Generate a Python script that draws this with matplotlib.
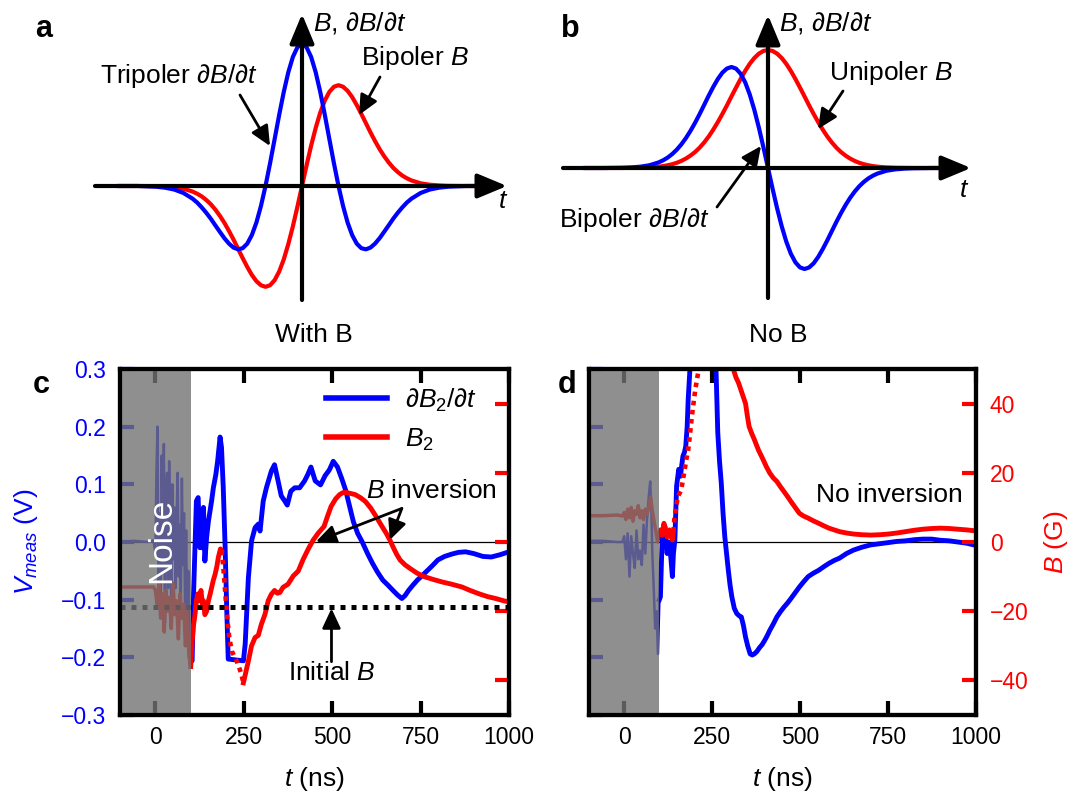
import matplotlib
matplotlib.use("Agg")
import matplotlib.pyplot as plt
from matplotlib.lines import Line2D

plt.rcParams['font.family'] = ['Liberation Sans', 'DejaVu Sans']
plt.rcParams['mathtext.fontset'] = 'custom'
plt.rcParams['mathtext.rm'] = 'Liberation Sans'
plt.rcParams['mathtext.it'] = 'Liberation Sans:italic'
plt.rcParams['mathtext.bf'] = 'Liberation Sans:bold'
plt.rcParams['mathtext.sf'] = 'Liberation Sans'

# ---- schematic pulses (a, b): time in pulse widths, amplitude normalised ----
u_grid = [-5, -4.5, -4, -3.75, -3.5, -3.25, -3, -2.875, -2.75, -2.625, -2.5, -2.375, -2.25,
          -2.125, -2, -1.875, -1.75, -1.625, -1.5, -1.375, -1.25, -1.125, -1, -0.875, -0.75,
          -0.625, -0.5, -0.375, -0.25, -0.125, 0, 0.125, 0.25, 0.375, 0.5, 0.625, 0.75, 0.875,
          1, 1.125, 1.25, 1.375, 1.5, 1.625, 1.75, 1.875, 2, 2.125, 2.25, 2.375, 2.5, 2.625,
          2.75, 2.875, 3, 3.25, 3.5, 3.75, 4, 4.5, 5]
a_tripolar = [0, 0, -0.005, -0.012, -0.025, -0.049, -0.089, -0.116, -0.150, -0.188, -0.230,
              -0.277, -0.323, -0.368, -0.406, -0.434, -0.446, -0.438, -0.406, -0.346, -0.258,
              -0.141, 0.0, 0.160, 0.330, 0.501, 0.662, 0.801, 0.909, 0.977, 1.0, 0.977, 0.909,
              0.801, 0.662, 0.501, 0.330, 0.160, 0.0, -0.141, -0.258, -0.346, -0.406, -0.438,
              -0.446, -0.434, -0.406, -0.368, -0.323, -0.277, -0.230, -0.188, -0.150, -0.116,
              -0.089, -0.049, -0.025, -0.012, -0.005, 0, 0]
a_bipolar = [0, 0, -0.001, -0.004, -0.009, -0.019, -0.039, -0.054, -0.073, -0.098, -0.128,
             -0.166, -0.210, -0.260, -0.317, -0.378, -0.443, -0.508, -0.570, -0.626, -0.670,
             -0.699, -0.710, -0.699, -0.663, -0.602, -0.517, -0.409, -0.284, -0.145, 0, 0.145,
             0.284, 0.409, 0.517, 0.602, 0.663, 0.699, 0.710, 0.699, 0.670, 0.626, 0.570, 0.508,
             0.443, 0.378, 0.317, 0.260, 0.210, 0.166, 0.128, 0.098, 0.073, 0.054, 0.039, 0.019,
             0.009, 0.004, 0.001, 0, 0]
b_bipolar = [0, 0, 0.002, 0.005, 0.011, 0.023, 0.047, 0.065, 0.088, 0.118, 0.155, 0.200, 0.253,
             0.314, 0.382, 0.456, 0.534, 0.613, 0.687, 0.754, 0.808, 0.843, 0.856, 0.842, 0.799,
             0.726, 0.623, 0.493, 0.342, 0.175, 0, -0.175, -0.342, -0.493, -0.623, -0.726,
             -0.799, -0.842, -0.856, -0.843, -0.808, -0.754, -0.687, -0.613, -0.534, -0.456,
             -0.382, -0.314, -0.253, -0.200, -0.155, -0.118, -0.088, -0.065, -0.047, -0.023,
             -0.011, -0.005, -0.002, 0, 0]
b_unipolar = [0, 0, 0.0003, 0.001, 0.002, 0.005, 0.011, 0.016, 0.023, 0.032, 0.044, 0.060,
              0.080, 0.105, 0.135, 0.172, 0.216, 0.267, 0.325, 0.389, 0.458, 0.531, 0.607, 0.682,
              0.755, 0.823, 0.883, 0.932, 0.969, 0.992, 1.0, 0.992, 0.969, 0.932, 0.883, 0.823,
              0.755, 0.682, 0.607, 0.531, 0.458, 0.389, 0.325, 0.267, 0.216, 0.172, 0.135, 0.105,
              0.080, 0.060, 0.044, 0.032, 0.023, 0.016, 0.011, 0.005, 0.002, 0.001, 0.0003, 0, 0]

# ---- panel c: measured dB2/dt (V) and B2 (G) vs t (ns) ----
c_noise_t = [-100, -60, -20, -5, 0, 3, 6, 9, 12, 15, 18, 21, 24, 27, 30, 33, 36, 39, 42, 45, 48,
             51, 54, 57, 60, 63, 66, 69, 72, 75, 78, 81, 84, 87, 90, 93, 96, 100]
c_noise_dbdt = [0.0, 0.002, 0.0, 0.003, -0.02, 0.12, 0.2, -0.1, 0.05, -0.12, 0.15, -0.05, 0.17,
                -0.14, 0.08, 0.12, -0.08, 0.14, 0.02, -0.1, 0.1, -0.03, 0.06, -0.08, 0.04, 0.12,
                -0.06, 0.03, -0.1, 0.11, -0.04, 0.05, -0.12, 0.02, -0.16, -0.05, -0.18, -0.206]
c_noise_bt = [-100, -60, -20, -5, 0, 5, 10, 15, 20, 25, 30, 35, 40, 45, 50, 55, 60, 65, 70, 75,
              80, 85, 90, 95, 100]
c_noise_b = [-13, -13, -13, -13, -14, -18, -12, -22, -15, -26, -14, -20, -16, -25, -12, -21, -17,
             -28, -15, -22, -18, -30, -20, -33, -36]

c_t_dbdt = [100, 104, 108, 112, 116, 121, 126, 129, 133, 136, 140, 145, 150, 159, 164, 171, 176,
            183, 187, 192, 197, 202, 206, 249, 254, 263, 272, 282, 291, 296, 305, 314, 328, 337,
            347, 356, 366, 373, 383, 394, 408, 422, 431, 440, 452, 467, 480, 492, 503, 515, 527,
            538, 550, 560, 572, 585, 600, 614, 628, 643, 658, 672, 685, 697, 706, 716, 728, 741,
            755, 770, 785, 799, 818, 838, 857, 877, 900, 926, 950, 975, 1000]
c_dbdt = [-0.206, -0.206, -0.09, -0.01, 0.071, 0.077, -0.01, 0.054, -0.01, 0.06, -0.033, 0.008,
          0.036, 0.071, 0.094, 0.117, 0.14, 0.182, 0.164, 0.094, -0.004, -0.12, -0.203, -0.206,
          -0.177, -0.062, 0.002, 0.025, 0.031, 0.019, 0.071, 0.094, 0.123, 0.134, 0.106, 0.08,
          0.071, 0.064, 0.088, 0.094, 0.094, 0.106, 0.117, 0.13, 0.106, 0.099, 0.115, 0.125, 0.14,
          0.13, 0.11, 0.09, 0.06, 0.035, 0.015, 0.0, -0.02, -0.037, -0.052, -0.066, -0.075, -0.084,
          -0.092, -0.098, -0.093, -0.084, -0.075, -0.066, -0.058, -0.049, -0.04, -0.031, -0.025,
          -0.021, -0.018, -0.017, -0.02, -0.025, -0.026, -0.022, -0.017]

c_t_b1 = [100, 104, 108, 112, 116, 120, 124, 129, 133, 136, 140, 145, 150, 155, 159, 164, 169,
          174, 178, 184, 187]
c_b1 = [-36, -28.6, -24, -21, -17, -15, -17, -14, -18, -17, -21, -20, -17, -15, -13.2, -11, -9.3,
        -7, -4.5, -2, -2.5]
c_t_bgap = [187, 191, 195, 200, 204, 209, 216, 223, 230, 236, 242, 249]
c_bgap = [-2.5, -6, -11, -18, -22.8, -27.6, -31.5, -33, -34.4, -36, -37.8, -40.7]
c_t_b2 = [249, 255, 263, 272, 282, 291, 300, 310, 319, 328, 337, 345, 352, 361, 375, 390, 404,
          418, 432, 446, 460, 477, 487, 497, 510, 521, 531, 541, 553, 565, 580, 594, 609, 624,
          638, 653, 663, 672, 682, 692, 706, 721, 740, 760, 785, 809, 838, 867, 890, 916, 940,
          965, 985, 1000]
c_b2 = [-40.7, -38, -34.4, -30, -27.6, -27, -23.7, -20.9, -17, -15.1, -14, -14.8, -14.6, -13.1,
        -12.2, -9.8, -8.4, -5, -2.1, 0.5, 2.5, 4.5, 7.5, 10.3, 12.5, 13.7, 14.3, 14.3, 14.0, 13.7,
        12.8, 11.7, 9.8, 7.4, 5.0, 2.5, 0.6, -1.4, -3.5, -5.2, -6.6, -7.7, -9, -10, -10.8, -11.5,
        -12.2, -13, -14, -15, -15.8, -16.4, -17, -17.3]
initial_b = -18.9

# ---- panel d ----
d_noise_t = [-100, -60, -20, -5, 0, 5, 10, 15, 20, 25, 30, 35, 40, 45, 50, 55, 60, 65, 70, 74,
             77, 80, 84, 88, 92, 96, 100]
d_noise_dbdt = [0.002, 0.002, 0.0, 0.0, 0.01, -0.03, 0.015, -0.06, 0.01, -0.02, -0.045, 0.02,
                -0.03, -0.015, -0.04, 0.03, -0.02, 0.04, 0.08, 0.105, 0.06, -0.02, -0.08, -0.15,
                -0.12, -0.194, -0.1]
d_noise_bt = [-100, -60, -20, -5, 0, 5, 10, 15, 20, 25, 30, 35, 40, 45, 50, 55, 60, 65, 70, 75,
              80, 85, 90, 95, 100]
d_noise_b = [7.6, 7.6, 7.8, 7.5, 8.5, 6.5, 9.5, 7, 10, 6, 9, 8, 10.5, 7, 9, 6.5, 9.5, 8, 10, 13,
             9, 6, 3, 0, 2.5]

d_t_dbdt = [100, 103, 108, 112, 116, 119, 122, 126, 129, 133, 137, 140, 144, 149, 155, 160, 163,
            167, 171, 175, 179, 182, 186, 190, 225, 258, 261, 266, 271, 276, 281, 286, 291, 296,
            301, 306, 313, 320, 327, 333, 339, 345, 351, 358, 364, 370, 377, 385, 392, 399, 407,
            414, 424, 434, 444, 454, 464, 474, 486, 498, 510, 523, 538, 553, 567, 582, 597, 612,
            632, 652, 676, 701, 726, 751, 775, 800, 825, 849, 874, 899, 924, 948, 973, 1000]
d_dbdt = [-0.1, -0.095, 0.009, 0.02, 0.027, 0.0, -0.02, 0.0, -0.002, -0.03, -0.06, -0.02, 0.003,
          0.097, 0.126, 0.114, 0.13, 0.149, 0.155, 0.166, 0.2, 0.248, 0.29, 0.34, 0.6, 0.34, 0.3,
          0.19, 0.14, 0.102, 0.05, 0.009, -0.02, -0.049, -0.075, -0.095, -0.115, -0.124, -0.128,
          -0.13, -0.145, -0.165, -0.18, -0.194, -0.196, -0.194, -0.19, -0.183, -0.178, -0.171,
          -0.162, -0.153, -0.142, -0.13, -0.121, -0.113, -0.106, -0.098, -0.088, -0.078, -0.069,
          -0.06, -0.054, -0.049, -0.043, -0.037, -0.032, -0.028, -0.02, -0.014, -0.009, -0.005,
          -0.003, -0.001, 0.001, 0.002, 0.004, 0.005, 0.005, 0.003, 0.002, 0.0, -0.002, -0.006]

d_t_b1 = [100, 103, 108, 113, 117, 122, 126, 129, 133, 137, 140]
d_b1 = [2.5, 3.5, 2, 5.4, 3.5, 1.5, 3.0, 3.5, 1.5, 0.6, 3]
d_t_bgap = [140, 143, 148, 152, 157, 162, 167, 172, 177, 182, 187, 192, 197, 202, 207, 212, 216]
d_bgap = [3, 7.3, 10, 13, 14, 15, 18, 21, 24, 26.7, 31, 36, 40, 44, 47, 50, 53]
d_t_b2 = [300, 310, 318, 325, 335, 345, 350, 355, 362, 370, 382, 395, 404, 414, 424, 434, 444,
          454, 464, 474, 486, 498, 510, 523, 538, 553, 567, 582, 597, 612, 632, 652, 676, 701,
          726, 751, 775, 800, 825, 849, 874, 899, 924, 948, 973, 1000]
d_b2 = [56, 50, 47.5, 46, 43, 40, 36.5, 33.4, 31.5, 29.6, 26.5, 23.8, 21.8, 19.9, 18.5, 17.5, 16,
        14.6, 13.2, 11.7, 10, 8.3, 7.5, 6.9, 6.1, 5.4, 4.7, 4.0, 3.5, 3.0, 2.6, 2.3, 2.1, 2.0,
        2.1, 2.3, 2.6, 3.0, 3.4, 3.7, 3.9, 4.0, 3.9, 3.7, 3.5, 3.2]

# ---- ticks ----
t_ticks = [0, 250, 500, 750, 1000]
t_labels = ['0', '250', '500', '750', '1000']
v_ticks = [-0.3, -0.2, -0.1, 0.0, 0.1, 0.2, 0.3]
v_labels = ['\u22120.3', '\u22120.2', '\u22120.1', '0.0', '0.1', '0.2', '0.3']
b_ticks = [-40, -20, 0, 20, 40]
b_labels = ['\u221240', '\u221220', '0', '20', '40']

W, H = 1086, 794
fig = plt.figure(figsize=(W / 100, H / 100), dpi=100)


def box(x0, y0, x1, y1):
    # pixel box (top-left origin) -> figure fraction
    return [x0 / W, 1 - y1 / H, (x1 - x0) / W, (y1 - y0) / H]


def schematic(x0, y0, x1, y1, ox, oy, sx, sy):
    ax = fig.add_axes(box(x0, y0, x1, y1))
    ax.set_xlim((x0 - ox) / sx, (x1 - ox) / sx)
    ax.set_ylim((oy - y1) / sy, (oy - y0) / sy)
    ax.axis('off')
    return ax


ax_a = schematic(90, 0, 530, 320, 302, 186, 36.5, 142)
ax_a.plot(u_grid, a_bipolar, color='red', lw=3)
ax_a.plot(u_grid, a_tripolar, color='blue', lw=3)

ax_b = schematic(555, 0, 990, 320, 768, 168, 36.5, 118)
ax_b.plot(u_grid, b_unipolar, color='red', lw=3)
ax_b.plot(u_grid, b_bipolar, color='blue', lw=3)

FS = 19
TICK_FS = 16.5
arrow_small = dict(arrowstyle='-|>,head_length=0.6,head_width=0.28', mutation_scale=20,
                   lw=2, color='black', shrinkA=0, shrinkB=0)


def trace_axes(x0, x1, show_left, show_right):
    ax = fig.add_axes(box(x0, 369, x1, 715))
    ax2 = ax.twinx()
    ax.set_xlim(-100, 1000)
    ax.set_ylim(-0.3, 0.3)
    ax2.set_ylim(-50, 50)
    ax.set_xticks(t_ticks, labels=t_labels)
    ax.set_yticks(v_ticks, labels=v_labels)
    ax2.set_yticks(b_ticks, labels=b_labels)
    ax.tick_params(axis='x', top=True, bottom=True, direction='in', length=10, width=3,
                   color='black', labelsize=TICK_FS, pad=8)
    ax.tick_params(axis='y', left=True, right=False, direction='in', length=10, width=3,
                   colors='blue', labelsize=TICK_FS, pad=10, labelleft=show_left)
    ax2.tick_params(axis='y', right=True, left=False, direction='in', length=10, width=3,
                    colors='red', labelsize=TICK_FS, pad=10, labelright=show_right)
    for a in (ax, ax2):
        for sp in a.spines.values():
            sp.set_linewidth(3)
            sp.set_color('black')
            sp.set_zorder(20)
    ax.set_xlabel(r'$t$ (ns)', fontsize=FS)
    ax.xaxis.set_label_coords(0.5, -0.145)
    ax.axhline(0, color='black', lw=0.9, zorder=1)
    ax2.axvspan(-100, 100, color=(0.45, 0.45, 0.45), alpha=0.8, lw=0, zorder=10)
    return ax, ax2


# ---- panel c ----
ax_c, ax_c2 = trace_axes(120, 509, True, False)
ax_c.plot(c_noise_t, c_noise_dbdt, color='blue', lw=1.8)
ax_c.plot(c_t_dbdt, c_dbdt, color='blue', lw=3.5)
ax_c2.plot(c_noise_bt, c_noise_b, color='red', lw=2.5)
ax_c2.plot(c_t_b1, c_b1, color='red', lw=3.5)
ax_c2.plot(c_t_bgap, c_bgap, color='red', lw=3.3, linestyle=(0, (1, 1)))
ax_c2.plot(c_t_b2, c_b2, color='red', lw=3.5)
ax_c2.axhline(initial_b, color='black', lw=3.6, linestyle=(0, (1, 1.2)), zorder=3)
ax_c.set_ylabel(r'$V_{meas}$ (V)', fontsize=FS, color='blue')
ax_c.yaxis.set_label_coords(-0.205, 0.5)
ax_c2.text(17, 0.5, 'Noise', rotation=90, color='white', fontsize=24,
           ha='center', va='center', zorder=15)
handles = [Line2D([], [], color='blue', lw=4), Line2D([], [], color='red', lw=4)]
ax_c2.legend(handles, [r'$\partial B_2/\partial t$', r'$B_2$'], loc='upper left',
             bbox_to_anchor=(0.53, 0.95), frameon=False, fontsize=FS, handlelength=2.3,
             handletextpad=0.7, labelspacing=0.5, borderpad=0, borderaxespad=0)
ax_c2.text(597, 12.7, r'$B$ inversion', fontsize=FS, va='baseline', zorder=15)
ax_c2.annotate('', xy=(454, 0.1), xytext=(697, 9.7), arrowprops=arrow_small, zorder=15)
ax_c2.annotate('', xy=(663, 0.6), xytext=(697, 9.7), arrowprops=arrow_small, zorder=15)
ax_c2.text(375, -39.9, r'Initial $B$', fontsize=FS, va='baseline', zorder=15)
ax_c2.annotate('', xy=(498, -19.2), xytext=(498, -34.6), arrowprops=arrow_small, zorder=15)

# ---- panel d ----
ax_d, ax_d2 = trace_axes(589, 976, False, True)
ax_d.plot(d_noise_t, d_noise_dbdt, color='blue', lw=1.8)
ax_d.plot(d_t_dbdt, d_dbdt, color='blue', lw=3.5)
ax_d2.plot(d_noise_bt, d_noise_b, color='red', lw=2.5)
ax_d2.plot(d_t_b1, d_b1, color='red', lw=3.5)
ax_d2.plot(d_t_bgap, d_bgap, color='red', lw=3.3, linestyle=(0, (1, 1)))
ax_d2.plot(d_t_b2, d_b2, color='red', lw=3.5)
ax_d2.set_ylabel(r'$B$ (G)', fontsize=FS, color='red')
ax_d2.yaxis.set_label_coords(1.17, 0.5)
ax_d2.text(545, 11.6, 'No inversion', fontsize=FS, va='baseline', zorder=15)

# ---- overlay in pixel units: schematic axes, labels, panel letters ----
ov = fig.add_axes([0, 0, 1, 1])
ov.set_xlim(0, W)
ov.set_ylim(H, 0)
ov.axis('off')
ov.patch.set_visible(False)

axis_arrow = dict(arrowstyle='-|>,head_length=0.6,head_width=0.25', mutation_scale=30,
                  lw=3, color='black', shrinkA=0, shrinkB=0)
ov.annotate('', xy=(507, 186), xytext=(95, 186), arrowprops=axis_arrow)
ov.annotate('', xy=(302, 14), xytext=(302, 300), arrowprops=axis_arrow)
ov.annotate('', xy=(971, 168), xytext=(563, 168), arrowprops=axis_arrow)
ov.annotate('', xy=(768, 15), xytext=(768, 298), arrowprops=axis_arrow)

ov.text(313, 31, r'$B$, $\partial B/\partial t$', fontsize=FS, va='baseline')
ov.text(498, 208, r'$t$', fontsize=FS, va='baseline')
ov.text(100, 83, r'Tripoler $\partial B/\partial t$', fontsize=FS, va='baseline')
ov.annotate('', xy=(270, 146), xytext=(240, 95), arrowprops=arrow_small)
ov.text(361, 65, r'Bipoler $B$', fontsize=FS, va='baseline')
ov.annotate('', xy=(359, 115), xytext=(380, 77), arrowprops=arrow_small)
ov.text(314, 342, 'With B', fontsize=FS, va='baseline', ha='center')

ov.text(779, 31, r'$B$, $\partial B/\partial t$', fontsize=FS, va='baseline')
ov.text(959, 197, r'$t$', fontsize=FS, va='baseline')
ov.text(829, 80, r'Unipoler $B$', fontsize=FS, va='baseline')
ov.annotate('', xy=(818, 129), xytext=(843, 91), arrowprops=arrow_small)
ov.text(559, 227, r'Bipoler $\partial B/\partial t$', fontsize=FS, va='baseline')
ov.annotate('', xy=(761, 146), xytext=(717, 207), arrowprops=arrow_small)
ov.text(778, 342, 'No B', fontsize=FS, va='baseline', ha='center')

for letter, x, y in [('a', 35, 37), ('b', 561, 37), ('c', 33, 393), ('d', 558, 393)]:
    ov.text(x, y, letter, fontsize=22, fontweight='bold', va='baseline')

fig.savefig('out.png', dpi=100)
